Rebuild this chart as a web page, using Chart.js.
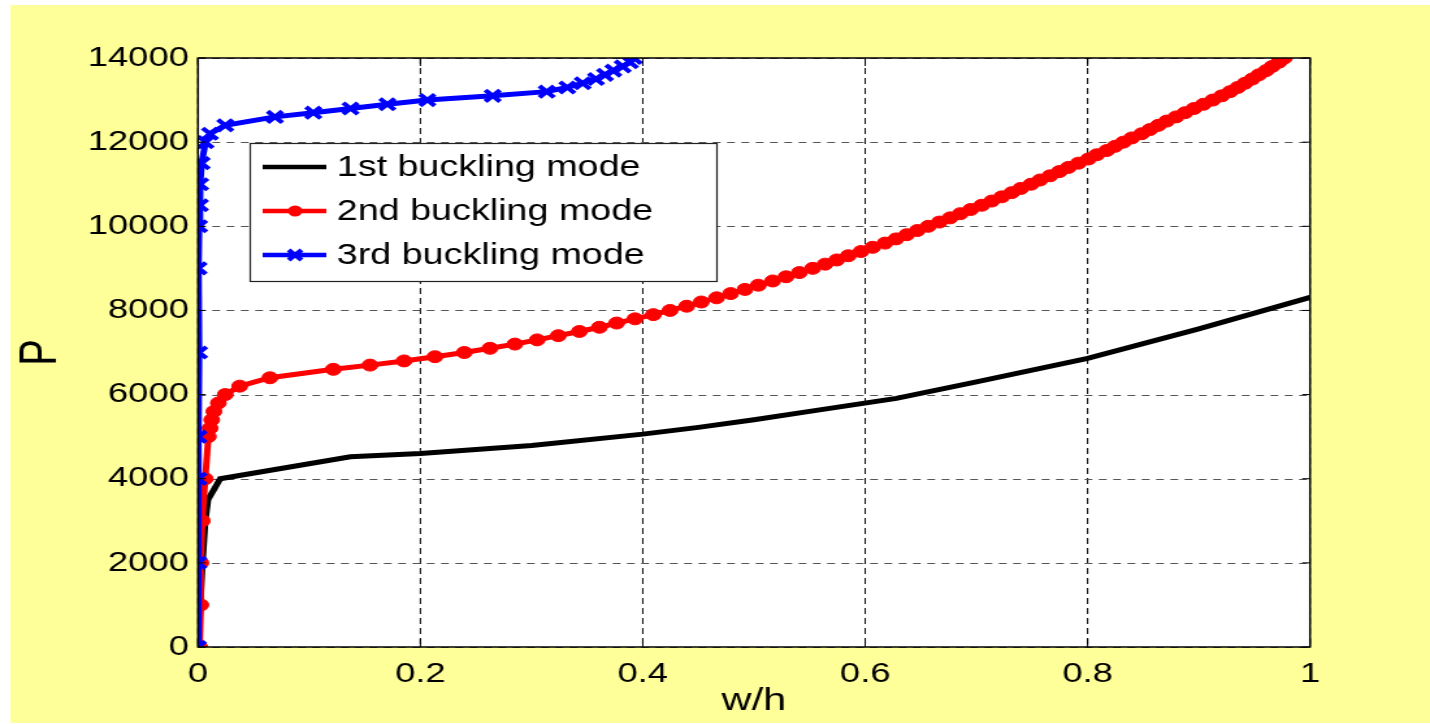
<!DOCTYPE html>
<html>
<head>
<meta charset="utf-8">
<script src="https://cdn.jsdelivr.net/npm/chart.js@4.4.1/dist/chart.umd.min.js"></script>
<style>
  html, body { margin: 0; padding: 0; background: #fff; overflow: hidden; }
  #c { display: block; }
</style>
</head>
<body>
<canvas id="c" width="1100" height="724" style="width:1430px;height:724px"></canvas>
<script>
// ---- data -------------------------------------------------------------
const xTickLabels = ['0', '0.2', '0.4', '0.6', '0.8', '1'];
const yTickLabels = ['0', '2000', '4000', '6000', '8000', '10000', '12000', '14000'];
const seriesNames = ['1st buckling mode', '2nd buckling mode', '3rd buckling mode'];

// 1st mode (plain line)
const mode1W = [0, 0.004, 0.0065, 0.009, 0.02, 0.137, 0.2, 0.3, 0.4, 0.45, 0.5, 0.55, 0.628, 0.7, 0.8, 0.9, 1.0];
const mode1P = [0, 2000, 3000, 3500, 4000, 4520, 4600, 4790, 5060, 5220, 5400, 5600, 5910, 6300, 6860, 7560, 8310];

// 2nd mode (circle markers)
const mode2W = [0.0015, 0.0025, 0.0025, 0.0038, 0.0065, 0.0093, 0.0108, 0.0123, 0.0143, 0.0183,
  0.0245, 0.0375, 0.0647, 0.1217, 0.1547, 0.1853, 0.2131, 0.2395, 0.2626, 0.285,
  0.305, 0.324, 0.343, 0.361, 0.3765, 0.393, 0.4095, 0.4245, 0.4395, 0.4526,
  0.4664, 0.479, 0.4919, 0.5039, 0.5168, 0.5288, 0.5408, 0.5528, 0.5639, 0.5744,
  0.5848, 0.5962, 0.6067, 0.6178, 0.6277, 0.6373, 0.6469, 0.6567, 0.6667, 0.6763,
  0.6855, 0.6949, 0.7048, 0.7138, 0.7228, 0.7318, 0.7399, 0.7491, 0.7572, 0.7662,
  0.7746, 0.7827, 0.7917, 0.8007, 0.8082, 0.8172, 0.8246, 0.8321, 0.8397, 0.8486,
  0.8561, 0.8636, 0.8711, 0.8795, 0.8876, 0.8957, 0.9041, 0.9125, 0.9206, 0.9281,
  0.935, 0.9415, 0.948, 0.954, 0.9605, 0.966, 0.972, 0.977];
const mode2P = [0, 1000, 2000, 3000, 4000, 5000, 5200, 5400, 5600, 5800,
  6000, 6200, 6400, 6600, 6700, 6800, 6900, 7000, 7100, 7200,
  7300, 7400, 7500, 7600, 7700, 7800, 7900, 8000, 8100, 8200,
  8300, 8400, 8500, 8600, 8700, 8800, 8900, 9000, 9100, 9200,
  9300, 9400, 9500, 9600, 9700, 9800, 9900, 10000, 10100, 10200,
  10300, 10400, 10500, 10600, 10700, 10800, 10900, 11000, 11100, 11200,
  11300, 11400, 11500, 11600, 11700, 11800, 11900, 12000, 12100, 12200,
  12300, 12400, 12500, 12600, 12700, 12800, 12900, 13000, 13100, 13200,
  13300, 13400, 13500, 13600, 13700, 13800, 13900, 14000];

// 3rd mode (x markers)
const mode3W = [0, 0.0003, 0.0005, 0.0005, 0.001, 0.0005, 0.001, 0.0018, 0.002, 0.0033,
  0.0068, 0.0108, 0.0245, 0.0692, 0.1037, 0.1372, 0.1703, 0.2063, 0.265, 0.3136,
  0.3321, 0.3459, 0.3579, 0.366, 0.3735, 0.3819, 0.3885, 0.392];
const mode3P = [0, 2000, 4000, 5000, 7000, 9000, 10000, 10500, 11000, 11500,
  12000, 12200, 12400, 12600, 12700, 12800, 12900, 13000, 13100, 13200,
  13300, 13400, 13500, 13600, 13700, 13800, 13900, 14000];

const seriesColors = ['#000000', '#ff0000', '#0000ff'];

// ---- layout (canvas units; the canvas is widened by CSS) --------------
const W = 1100, H = 724;
const PLOT_LEFT = 152.3, PLOT_RIGHT = 1007.7, PLOT_TOP = 58, PLOT_BOTTOM = 647;
const FONT = '"Liberation Sans", Arial, Helvetica, sans-serif';

const toPts = (xs, ys) => xs.map((x, i) => ({ x: x, y: ys[i] }));

const frame = {
  id: 'frame',
  beforeDraw(chart) {
    const ctx = chart.ctx, a = chart.chartArea;
    ctx.save();
    ctx.fillStyle = '#ffffff';
    ctx.fillRect(0, 0, W, H);
    ctx.fillStyle = '#ffff99';
    ctx.fillRect(8, 5, W - 8, 718);
    ctx.fillStyle = '#ffffff';
    ctx.fillRect(a.left, a.top, a.right - a.left, a.bottom - a.top);
    ctx.restore();
  },
  beforeDatasetsDraw(chart) {
    // dashed grid
    const ctx = chart.ctx, a = chart.chartArea;
    const xs = chart.scales.x, ys = chart.scales.y;
    ctx.save();
    ctx.lineWidth = 1;
    ctx.setLineDash([6, 4]);
    ctx.strokeStyle = '#000';
    xs.ticks.forEach(t => {
      const px = xs.getPixelForValue(t.value);
      ctx.beginPath(); ctx.moveTo(px, a.top); ctx.lineTo(px, a.bottom); ctx.stroke();
    });
    ctx.setLineDash([6, 5]);
    ctx.strokeStyle = '#555';
    ys.ticks.forEach(t => {
      const py = Math.round(ys.getPixelForValue(t.value)) + 0.5;
      ctx.beginPath(); ctx.moveTo(a.left, py); ctx.lineTo(a.right, py); ctx.stroke();
    });
    ctx.restore();
  },
  afterDraw(chart) {
    const ctx = chart.ctx, a = chart.chartArea;
    const xs = chart.scales.x, ys = chart.scales.y;
    ctx.save();
    // axes box and inward ticks
    ctx.strokeStyle = '#000';
    ctx.lineWidth = 1.5;
    ctx.strokeRect(a.left, a.top, a.right - a.left, a.bottom - a.top);
    ctx.lineWidth = 1;
    xs.ticks.forEach(t => {
      const px = xs.getPixelForValue(t.value);
      ctx.beginPath();
      ctx.moveTo(px, a.bottom); ctx.lineTo(px, a.bottom - 8);
      ctx.moveTo(px, a.top); ctx.lineTo(px, a.top + 8);
      ctx.stroke();
    });
    ys.ticks.forEach(t => {
      const py = ys.getPixelForValue(t.value);
      ctx.beginPath();
      ctx.moveTo(a.left, py); ctx.lineTo(a.left + 6, py);
      ctx.moveTo(a.right, py); ctx.lineTo(a.right - 6, py);
      ctx.stroke();
    });

    // legend
    const lx = 192, ly = 143, lw = 359, lh = 138;
    ctx.fillStyle = '#fff';
    ctx.fillRect(lx, ly, lw, lh);
    ctx.strokeStyle = '#222';
    ctx.lineWidth = 1.2;
    ctx.strokeRect(lx + 0.5, ly + 0.5, lw, lh);
    const rows = [167, 211, 255];
    chart.data.datasets.forEach((ds, i) => {
      const y = rows[i];
      ctx.strokeStyle = ds.borderColor;
      ctx.lineWidth = 4.5;
      ctx.beginPath(); ctx.moveTo(202, y); ctx.lineTo(251, y); ctx.stroke();
      const cx = 227;
      if (ds.pointStyle === 'circle' && ds.pointRadius > 0) {
        ctx.fillStyle = ds.pointBackgroundColor;
        ctx.beginPath(); ctx.arc(cx, y, 5.5, 0, Math.PI * 2); ctx.fill();
      } else if (ds.pointStyle === 'crossRot' && ds.pointRadius > 0) {
        ctx.lineWidth = 4;
        const r = 5;
        ctx.beginPath();
        ctx.moveTo(cx - r, y - r); ctx.lineTo(cx + r, y + r);
        ctx.moveTo(cx - r, y + r); ctx.lineTo(cx + r, y - r);
        ctx.stroke();
      }
      ctx.fillStyle = '#000';
      ctx.font = '29px ' + FONT;
      ctx.textBaseline = 'middle';
      ctx.textAlign = 'left';
      ctx.fillText(ds.label, 259, y + 1);
    });
    ctx.restore();
  }
};

const canvas = document.getElementById('c');
new Chart(canvas, {
  type: 'line',
  data: {
    datasets: [
      {
        label: seriesNames[0], data: toPts(mode1W, mode1P), order: 3,
        borderColor: seriesColors[0], borderWidth: 5, pointRadius: 0, pointStyle: false,
        tension: 0, fill: false
      },
      {
        label: seriesNames[1], data: toPts(mode2W, mode2P), order: 2,
        borderColor: seriesColors[1], borderWidth: 5, tension: 0, fill: false,
        pointStyle: 'circle', pointRadius: 6, pointBackgroundColor: seriesColors[1],
        pointBorderColor: seriesColors[1], pointBorderWidth: 1
      },
      {
        label: seriesNames[2], data: toPts(mode3W, mode3P), order: 1,
        borderColor: seriesColors[2], borderWidth: 5, tension: 0, fill: false,
        pointStyle: 'crossRot', pointRadius: 8, pointBackgroundColor: seriesColors[2],
        pointBorderColor: seriesColors[2], pointBorderWidth: 4
      }
    ]
  },
  options: {
    responsive: false,
    animation: false,
    events: [],
    devicePixelRatio: 1,
    layout: { padding: { left: 0, top: PLOT_TOP, right: W - PLOT_RIGHT, bottom: 0 } },
    plugins: { legend: { display: false }, tooltip: { enabled: false } },
    scales: {
      x: {
        type: 'linear', min: 0, max: 1,
        grid: { display: false, drawTicks: false },
        border: { display: false },
        ticks: {
          stepSize: 0.2, padding: 10, color: '#000', maxRotation: 0,
          font: { family: FONT, size: 28 },
          callback: (v, i) => xTickLabels[i]
        },
        title: { display: true, text: 'w/h', color: '#000', font: { family: FONT, size: 32 }, padding: { top: 0, bottom: 4 } },
        afterFit(s) { s.height = H - PLOT_BOTTOM; }
      },
      y: {
        type: 'linear', min: 0, max: 14000,
        grid: { display: false, drawTicks: false },
        border: { display: false },
        ticks: {
          stepSize: 2000, padding: 7, color: '#000',
          font: { family: FONT, size: 28 },
          callback: (v, i) => yTickLabels[i]
        },
        title: { display: true, text: 'P', color: '#000', font: { family: FONT, size: 40 }, padding: { top: 8, bottom: 0 } },
        afterFit(s) { s.width = PLOT_LEFT; }
      }
    }
  },
  plugins: [frame]
});
// widen the drawing to the full window
canvas.style.width = '1430px';
canvas.style.height = '724px';
</script>
</body>
</html>
